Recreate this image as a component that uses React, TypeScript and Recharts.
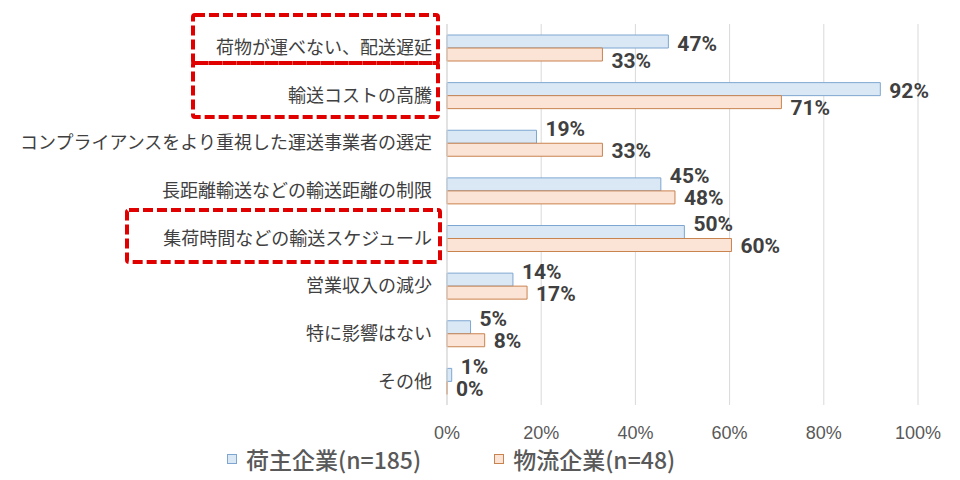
import {
  Bar,
  BarChart,
  CartesianGrid,
  Legend,
  XAxis,
  YAxis,
} from "recharts";

const categories = [
  "荷物が運べない、配送遅延",
  "輸送コストの高騰",
  "コンプライアンスをより重視した運送事業者の選定",
  "長距離輸送などの輸送距離の制限",
  "集荷時間などの輸送スケジュール",
  "営業収入の減少",
  "特に影響はない",
  "その他",
];

const shipperValues = [47, 92, 19, 45.4, 50.4, 14, 5, 1];
const logisticsValues = [33, 71, 33, 48.4, 60.4, 17, 8, 0];

const xTicks = [0, 20, 40, 60, 80, 100];

const seriesNames = ["荷主企業(n=185)", "物流企業(n=48)"];

const data = categories.map((name, i) => ({
  name,
  shipper: shipperValues[i],
  logistics: logisticsValues[i],
}));

const BLUE_FILL = "#DAE8F6";
const BLUE_LINE = "#7EA6D0";
const ORANGE_FILL = "#FBE3D5";
const ORANGE_LINE = "#C9834F";

// red dashed annotation boxes around the highlighted categories
const highlightBoxes = [
  { x: 193, y: 15, w: 245, h: 48 },
  { x: 193, y: 63, w: 245, h: 54 },
  { x: 127, y: 210, w: 313, h: 52 },
];

// when the blue bar clearly sticks out, labels sit beside their own bars;
// otherwise they are pushed apart like Excel does
const labelShift = (index: number, isBlue: boolean) => {
  const ahead = shipperValues[index] - logisticsValues[index];
  if (ahead >= 8) return isBlue ? 2 : 6;
  return isBlue ? -8 : 1;
};

const makeLabel = (isBlue: boolean) => (props: any) => {
  const { x, y, width, height, value, index } = props;
  return (
    <text
      x={x + (width || 0) + 9}
      y={y + height / 2 + labelShift(index, isBlue)}
      dominantBaseline="central"
      fontFamily="Roboto, 'Liberation Sans', sans-serif"
      fontWeight={700}
      fontSize={21}
      fill="#404040"
    >
      {Math.round(value)}%
    </text>
  );
};

const renderLegend = () => (
  <div
    style={{
      display: "flex",
      alignItems: "center",
      fontFamily: "'Noto Sans CJK JP', sans-serif",
      fontSize: 23,
      fontWeight: 500,
      color: "#595959",
      lineHeight: "22px",
    }}
  >
    {seriesNames.map((n, i) => (
      <div
        key={n}
        style={{ display: "flex", alignItems: "center", marginRight: 73 }}
      >
        <span
          style={{
            width: 8,
            height: 8,
            background: i === 0 ? BLUE_FILL : ORANGE_FILL,
            border: `1px solid ${i === 0 ? BLUE_LINE : ORANGE_LINE}`,
            marginRight: 9,
          }}
        />
        {n}
      </div>
    ))}
  </div>
);

export default function App() {
  return (
    <div
      style={{
        position: "absolute",
        left: 0,
        top: 0,
        width: 960,
        height: 480,
        background: "#fff",
      }}
    >
      <BarChart
        width={960}
        height={480}
        data={data}
        layout="vertical"
        margin={{ top: 24, right: 42, bottom: 0, left: 0 }}
        barSize={13}
        barGap={0}
      >
        <CartesianGrid
          horizontal={false}
          stroke="#D9D9D9"
          verticalValues={xTicks}
        />
        <XAxis
          type="number"
          domain={[0, 100]}
          ticks={xTicks}
          tickFormatter={(v) => `${v}%`}
          axisLine={false}
          tickLine={false}
          height={53}
          tickMargin={15}
          tick={{
            fill: "#595959",
            fontSize: 18,
            fontFamily: "'Liberation Sans', Arial, sans-serif",
          }}
        />
        <YAxis
          type="category"
          dataKey="name"
          width={447}
          axisLine={{ stroke: "#D9D9D9" }}
          tickLine={false}
          tickMargin={9}
          interval={0}
          tick={{
            fill: "#404040",
            fontSize: 18,
            fontFamily: "'Noto Sans CJK JP', sans-serif",
          }}
        />
        <Legend
          verticalAlign="bottom"
          content={renderLegend}
          wrapperStyle={{ left: 227, top: 448, bottom: "auto", width: 600 }}
        />
        <Bar
          dataKey="shipper"
          name={seriesNames[0]}
          fill={BLUE_FILL}
          stroke={BLUE_LINE}
          strokeWidth={1}
          isAnimationActive={false}
          label={makeLabel(true)}
        />
        <Bar
          dataKey="logistics"
          name={seriesNames[1]}
          fill={ORANGE_FILL}
          stroke={ORANGE_LINE}
          strokeWidth={1}
          minPointSize={0.01}
          isAnimationActive={false}
          label={makeLabel(false)}
        />
      </BarChart>
      <svg
        width={960}
        height={480}
        style={{ position: "absolute", left: 0, top: 0, pointerEvents: "none" }}
      >
        {highlightBoxes.map((b, i) => (
          <rect
            key={i}
            x={b.x}
            y={b.y}
            width={b.w}
            height={b.h}
            rx={2}
            fill="none"
            stroke="#E00000"
            strokeWidth={4}
            strokeDasharray="10 4"
          />
        ))}
      </svg>
    </div>
  );
}
